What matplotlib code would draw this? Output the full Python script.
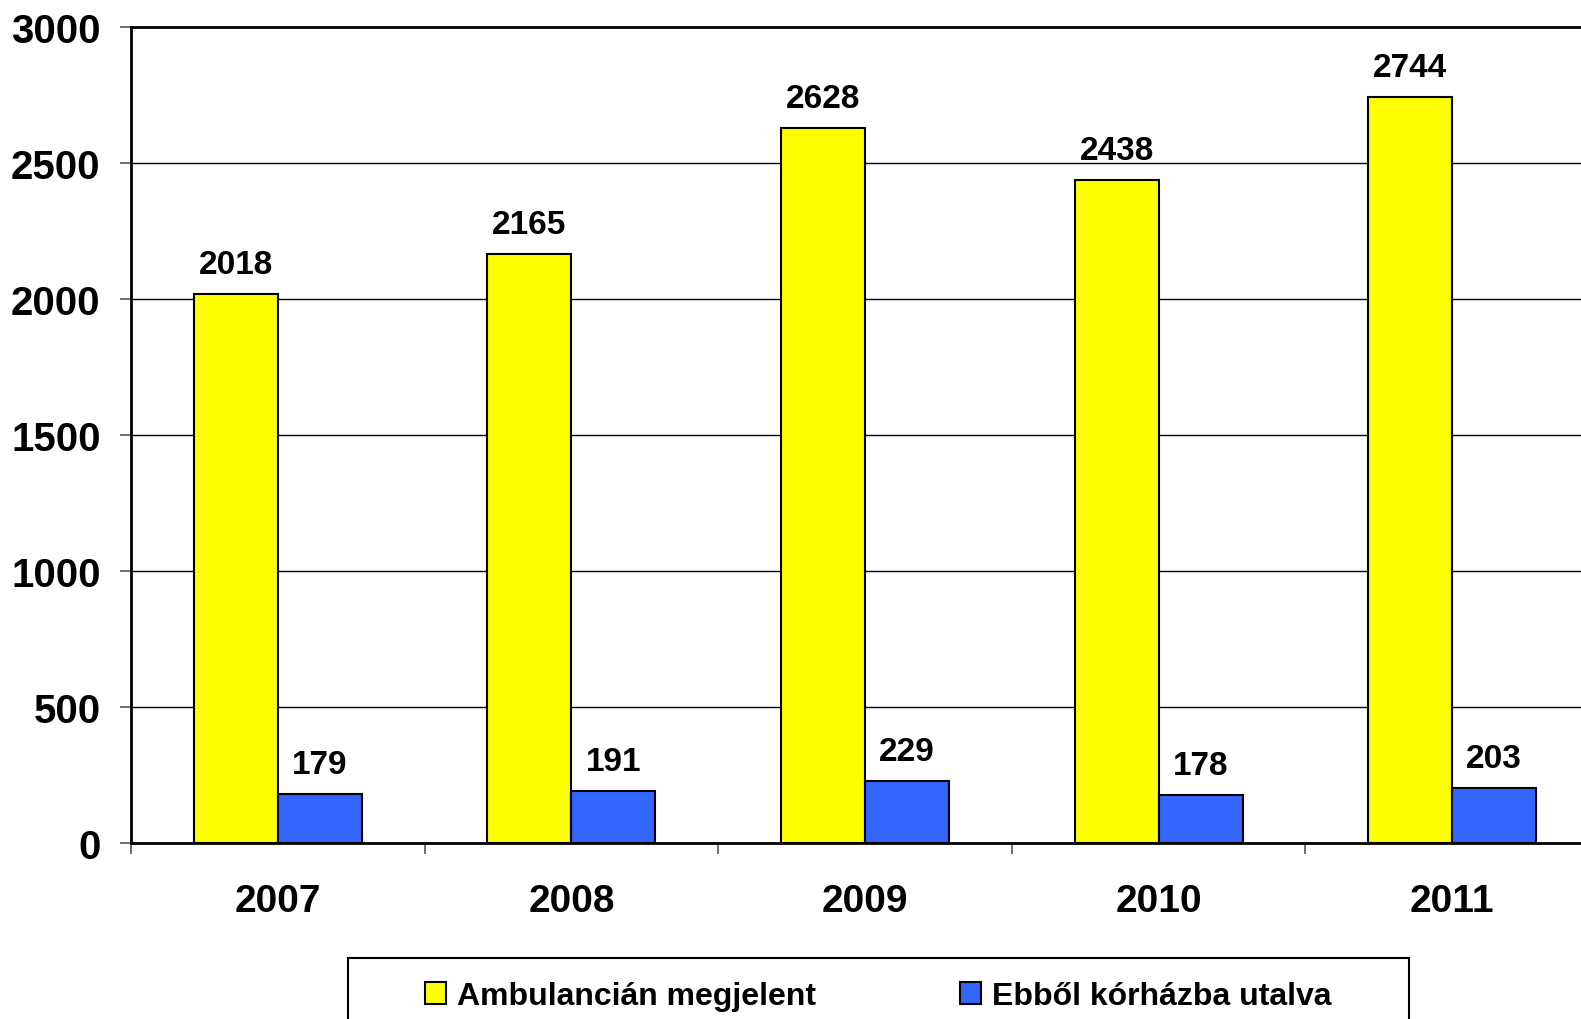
import matplotlib

matplotlib.use("Agg")
import matplotlib.pyplot as plt  # noqa: E402
import numpy as np  # noqa: E402
from matplotlib.patches import Rectangle  # noqa: E402

years = ["2007", "2008", "2009", "2010", "2011"]
megjelent = [2018, 2165, 2628, 2438, 2744]
utalva = [179, 191, 229, 178, 203]
yticks = [0, 500, 1000, 1500, 2000, 2500, 3000]

plt.rcParams["font.family"] = ["Liberation Sans", "DejaVu Sans"]
plt.rcParams["font.weight"] = "bold"

fig = plt.figure(figsize=(15.81, 10.20), dpi=100)
ax = fig.add_axes([0.0829, 0.1725, 0.9285, 0.800])

x = np.arange(len(years))
w = 0.286
b1 = ax.bar(x - w, megjelent, w, align="edge", color="#FFFF00", edgecolor="black", lw=1.5,
            label="Ambulancián megjelent", zorder=3)
b2 = ax.bar(x, utalva, w, align="edge", color="#3366FF", edgecolor="black", lw=1.5,
            label="Ebből kórházba utalva", zorder=3)

for bars, vals in [(b1, megjelent), (b2, utalva)]:
    for r, v in zip(bars, vals):
        ax.annotate(str(v), (r.get_x() + r.get_width() / 2, v), xytext=(0, 10),
                    textcoords="offset points", ha="center", va="bottom",
                    fontsize=24, fontweight="bold")

ax.set_xlim(-0.5, len(years) - 0.5)
ax.set_ylim(0, 3000)
ax.set_yticks(yticks)
ax.set_yticklabels([str(t) for t in yticks])
ax.yaxis.grid(True, color="black", lw=1.0, zorder=0)

ax.set_xticks(x)
ax.set_xticklabels(years)
ax.set_xticks(np.arange(len(years) + 1) - 0.5, minor=True)
ax.tick_params(axis="x", which="major", length=0, pad=29, labelsize=28)
ax.tick_params(axis="x", which="minor", length=8, width=1.2, color="#555555", direction="out")
ax.tick_params(axis="y", length=8, width=1.2, color="#555555", pad=14, labelsize=29)

for s in ["left", "bottom", "top"]:
    ax.spines[s].set_linewidth(2)
    ax.spines[s].set_color("black")
ax.spines["right"].set_visible(False)

# legend frame drawn separately, it runs off the bottom of the figure
fig.patches.append(Rectangle((0.220, -0.05), 0.671, 0.1099, transform=fig.transFigure,
                             fill=False, edgecolor="black", lw=1.5))
fig.legend(handles=[b1, b2], loc="center", bbox_to_anchor=(0.5555, 0.0225), ncol=2,
           frameon=False, fontsize=23, handlelength=0.65, handleheight=0.7,
           handletextpad=0.35, columnspacing=4.5)

fig.savefig("out.png", dpi=100)
